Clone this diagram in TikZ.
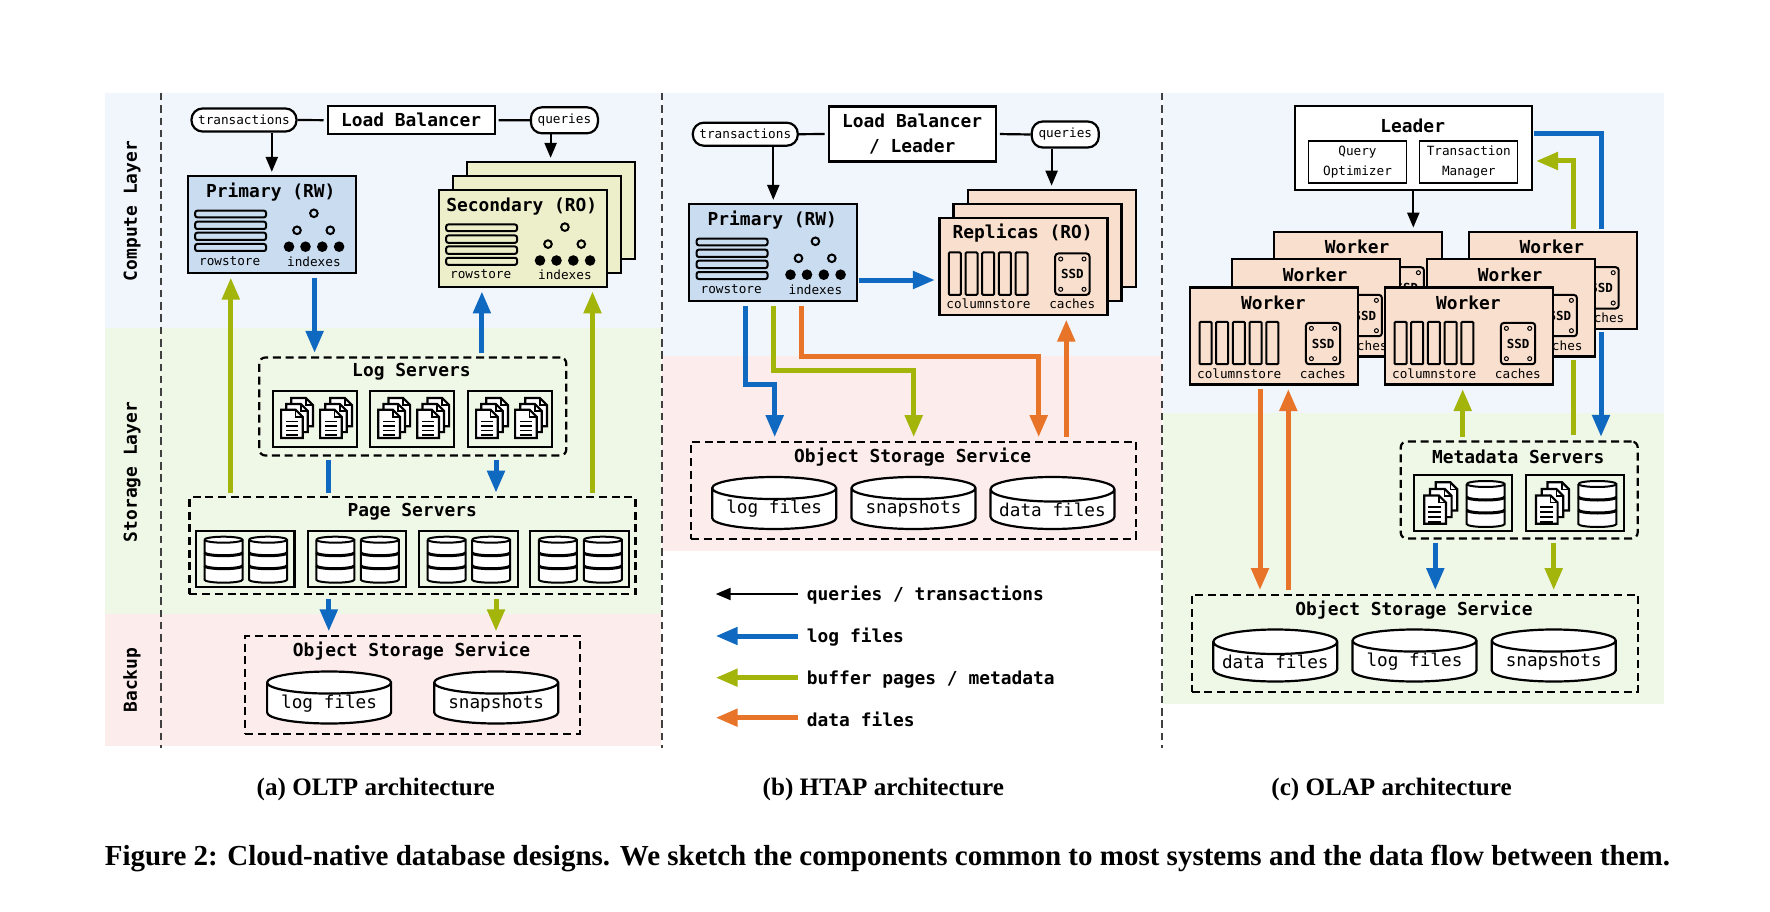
\documentclass[tikz,border=0pt]{standalone}
\usepackage{fontspec}
\setmainfont{Liberation Serif}
\setmonofont{DejaVu Sans Mono}
\usetikzlibrary{arrows.meta,shapes.geometric}

\definecolor{computebg}{HTML}{F0F6FB}
\definecolor{storagebg}{HTML}{EFF7E6}
\definecolor{backupbg}{HTML}{FDECEC}
\definecolor{primfill}{HTML}{C9DCF0}
\definecolor{secfill}{HTML}{EDEFCB}
\definecolor{colfill}{HTML}{F8DFCE}
\definecolor{logblue}{HTML}{0F69C0}
\definecolor{pageolive}{HTML}{A3B40A}
\definecolor{dataorange}{HTML}{E8742A}

\newcommand\headfont{\ttfamily\bfseries\fontsize{17.9}{24}\selectfont}
\newcommand\tinyfont{\ttfamily\fontsize{12.7}{18}\selectfont}
\newcommand\diskfont{\ttfamily\fontsize{17.7}{22}\selectfont}

\tikzset{
	box/.style={draw,line width=2.2pt,inner sep=0pt,minimum width=#1},
	head/.style={font=\headfont,yshift=-1.5pt},
	pill/.style={draw,line width=2.2pt,fill=white,rounded corners=11pt,inner sep=0pt,font=\tinyfont},
	dashbox/.style={draw,line width=2.2pt,dash pattern=on 8pt off 4.7pt,inner sep=0pt},
	sepline/.style={line width=2pt,dash pattern=on 7.5pt off 4.8pt,black!75},
	ask/.style={line width=2.2pt,-{Triangle[width=12pt,length=15pt]},shorten >=3pt},
	wire/.style={line width=2.2pt,shorten >=3pt},
	flow/.style={line width=5pt,color=#1,-{Triangle[width=17pt,length=22pt]},shorten >=3.5pt,shorten <=3.5pt},
	flat/.style={line width=5pt,color=#1,shorten <=3.5pt,shorten >=3.5pt},
	disk/.style={draw,line width=2.2pt,fill=white,cylinder,shape border rotate=90,aspect=0.23,
		minimum width=124pt,minimum height=52pt,inner sep=0pt,font=\diskfont,anchor=shape center},
	% one sheet with a folded corner
	pics/sheet/.style={code={
		\draw[line width=2.2pt,fill=white] (-10.8,-14.1) -- (3.8,-14.1) -- (10.8,-7.1) -- (10.8,14.1) -- (-10.8,14.1) -- cycle;
		\draw[line width=1.5pt] (3.8,-14.1) -- (3.8,-7.1) -- (10.8,-7.1);
	}},
	% three offset sheets
	pics/docs/.style={code={
		\pic at (5.1,-5.9) {sheet};
		\pic at (0,0) {sheet};
		\pic at (-5.1,5.9) {sheet};
		\draw[line width=1.4pt] (-11,3.5) -- (0.5,3.5) (-11,8) -- (0.5,8) (-11,12.5) -- (0.5,12.5) (-11,17) -- (0.5,17);
	}},
	% three tier drum
	pics/drum/.style={code={
		\draw[line width=2pt,fill=white] (-19,-20) -- (-19,20) arc[start angle=180,end angle=360,x radius=19pt,y radius=3pt]
			-- (19,-20) arc[start angle=0,end angle=180,x radius=19pt,y radius=3pt];
		\draw[line width=2pt] (-19,-20) arc[start angle=180,end angle=360,x radius=19pt,y radius=3pt];
		\draw[line width=3pt] (-19,-7) arc[start angle=180,end angle=360,x radius=19pt,y radius=3pt];
		\draw[line width=3pt] (-19,6) arc[start angle=180,end angle=360,x radius=19pt,y radius=3pt];
	}},
	% row box, title and fill as arguments
	pics/rowbox/.style 2 args={code={
		\node[box=168pt,minimum height=97pt,fill=#2] (-box) at (0,0) {};
		\node[head] (-head) at (-1,-33.5) {#1};
		\draw[line width=2pt,rounded corners=2pt] (-76.6,-13.8) rectangle (-5.8,-7.2);
		\draw[line width=2pt,rounded corners=2pt] (-76.6,-2.8) rectangle (-5.8,4.5);
		\draw[line width=2pt,rounded corners=2pt] (-76.6,8.2) rectangle (-5.8,15.5);
		\draw[line width=2pt,rounded corners=2pt] (-76.6,19.5) rectangle (-5.8,26.5);
		\draw[line width=2pt] (42.1,-11.2) circle (3.8pt) (25.2,5.8) circle (3.8pt) (58.5,5.8) circle (3.8pt);
		\fill (17.2,22.2) circle (5.3pt) (33.7,22.2) circle (5.3pt) (50.5,22.2) circle (5.3pt) (67.3,22.2) circle (5.3pt);
		\node[font=\tinyfont] (-rows) at (-42.1,36.2) {rowstore};
		\node[font=\tinyfont] (-idx) at (42.1,36.8) {indexes};
	}},
	% column box, title as argument
	pics/colbox/.style={code={
		\node[box=168pt,minimum height=97pt,fill=colfill] (-box) at (0,0) {};
		\node[head] (-head) at (-0.8,-34.5) {#1};
		\draw[line width=2pt,rounded corners=1pt] (-74.7,-14) rectangle ++(12,42.3);
		\draw[line width=2pt,rounded corners=1pt] (-58,-14) rectangle ++(12,42.3);
		\draw[line width=2pt,rounded corners=1pt] (-41.3,-14) rectangle ++(12,42.3);
		\draw[line width=2pt,rounded corners=1pt] (-24.6,-14) rectangle ++(12,42.3);
		\draw[line width=2pt,rounded corners=1pt] (-7.9,-14) rectangle ++(12,42.3);
		\draw[line width=2pt,rounded corners=3pt] (31.7,-13) rectangle (66,28.3);
		\draw[line width=1pt] (37.2,-7.5) circle (2pt) (60.5,-7.5) circle (2pt) (37.2,22.8) circle (2pt) (60.5,22.8) circle (2pt);
		\node[font=\ttfamily\bfseries\fontsize{12.5}{15}\selectfont] (-ssd) at (48.9,7.6) {SSD};
		\node[font=\tinyfont] (-cols) at (-35,37.7) {columnstore};
		\node[font=\tinyfont] (-cache) at (48.7,37.7) {caches};
	}},
}

\begin{document}
\begin{tikzpicture}[x=1pt,y=-1pt]
	\useasboundingbox (0,0) rectangle (1770,912);

	%backgrounds
	\fill[computebg] (105,93) rectangle (661,328);
	\fill[storagebg] (105,328) rectangle (661,614);
	\fill[backupbg] (105,614) rectangle (661,746);
	\fill[computebg] (662,93) rectangle (1162,356);
	\fill[backupbg] (662,356) rectangle (1162,551);
	\fill[computebg] (1163,93) rectangle (1664,412.7);
	\fill[storagebg] (1163,412.7) rectangle (1664,704);

	\draw[sepline] (160.8,93) -- (160.8,748);
	\draw[sepline] (661.7,93) -- (661.7,748);
	\draw[sepline] (1162.3,93) -- (1162.3,748);

	\node[font=\headfont,rotate=90] (computelab) at (132,211) {Compute Layer};
	\node[font=\headfont,rotate=90] (storagelab) at (132,472) {Storage Layer};
	\node[font=\headfont,rotate=90] (backuplab) at (132,680) {Backup};

	%oltp panel
	\node[box=167pt,minimum height=28pt,fill=white,font=\headfont] (lba) at (411.1,120.2) {\raisebox{-1.5pt}{Load Balancer}};
	\node[pill,minimum width=105pt,minimum height=23pt] (txna) at (244,120) {transactions};
	\node[pill,minimum width=67pt,minimum height=26pt] (qrya) at (564.4,120.3) {queries};
	\draw[wire] (txna.east) -- (lba.west);
	\draw[wire] (qrya.west) -- (lba.east);

	\pic (pa) at (271.8,224.5) {rowbox={Primary (RW)}{primfill}};
	\node[box=168pt,minimum height=97pt,fill=secfill] (seca3) at (550.6,210.5) {};
	\node[box=168pt,minimum height=97pt,fill=secfill] (seca2) at (536.8,224.7) {};
	\pic (seca) at (522.8,238.3) {rowbox={Secondary (RO)}{secfill}};
	\draw[ask] (txna.south -| pa-box.north) -- (pa-box.north);
	\draw[ask] (qrya.south -| seca3.north) -- (seca3.north);

	\node[dashbox,rounded corners=6pt,minimum width=307pt,minimum height=98pt] (logsrv) at (412.8,406.5) {};
	\node[head] (logtitle) at (411.5,370) {Log Servers};
	\node[box=84pt,minimum height=56pt] (loga) at (315,419.2) {};
	\node[box=84pt,minimum height=56pt] (logb) at (412.2,419.2) {};
	\node[box=84pt,minimum height=56pt] (logc) at (510,419.2) {};
	\pic at (297,418) {docs};
	\pic at (336,418) {docs};
	\pic at (394.2,418) {docs};
	\pic at (433.2,418) {docs};
	\pic at (492,418) {docs};
	\pic at (531,418) {docs};

	\node[dashbox,minimum width=446pt,minimum height=97pt] (pagesrv) at (412.4,545.8) {};
	\node[head] (pagetitle) at (412.2,510) {Page Servers};
	\node[box=98.5pt,minimum height=56pt] (pga) at (245.3,558.7) {};
	\node[box=98.5pt,minimum height=56pt] (pgb) at (357.1,558.7) {};
	\node[box=98.5pt,minimum height=56pt] (pgc) at (468.4,558.7) {};
	\node[box=98.5pt,minimum height=56pt] (pgd) at (579.6,558.7) {};
	\pic at (223.5,559.7) {drum};
	\pic at (268,559.7) {drum};
	\pic at (335.3,559.7) {drum};
	\pic at (379.8,559.7) {drum};
	\pic at (446.6,559.7) {drum};
	\pic at (491.1,559.7) {drum};
	\pic at (557.8,559.7) {drum};
	\pic at (602.8,559.7) {drum};

	\node[dashbox,minimum width=334.5pt,minimum height=98pt] (obja) at (412.6,685) {};
	\node[head] (objatitle) at (411.5,649.3) {Object Storage Service};
	\node[disk] (loga-d) at (329.1,697.5) {log files};
	\node[disk] (snapa-d) at (496.2,697.5) {snapshots};

	\coordinate (xola) at (230.8,300);
	\coordinate (xolb) at (592.5,300);
	\coordinate (xbla) at (314.6,300);
	\coordinate (xblb) at (481.9,300);
	\coordinate (xblc) at (328.8,300);
	\coordinate (xbld) at (496,300);
	\draw[flow=pageolive] (pagesrv.north -| xola) -- (pa-box.south -| xola);
	\draw[flow=pageolive] (pagesrv.north -| xolb) -- (seca-box.south -| xolb);
	\draw[flow=logblue] (pa-box.south -| xbla) -- (logsrv.north -| xbla);
	\draw[flow=logblue] (logsrv.north -| xblb) -- (seca-box.south -| xblb);
	\draw[flat=logblue] (logsrv.south -| xblc) -- (pagesrv.north -| xblc);
	\draw[flow=logblue] (logsrv.south -| xbld) -- (pagesrv.north -| xbld);
	\draw[flow=logblue] (pagesrv.south -| xblc) -- (obja.north -| xblc);
	\draw[flow=pageolive] (pagesrv.south -| xbld) -- (obja.north -| xbld);

	\node[font=\bfseries\fontsize{25.1}{28}\selectfont] (capa) at (375.7,789.2) {(a) OLTP architecture};

	%htap panel
	\node[box=167pt,minimum height=55pt,fill=white,font=\headfont,align=center] (lbb) at (912.2,134) {\raisebox{-1pt}{Load Balancer}\\\raisebox{-2.5pt}{/ Leader}};
	\node[pill,minimum width=105pt,minimum height=23pt] (txnb) at (745.3,134.2) {transactions};
	\node[pill,minimum width=67pt,minimum height=26pt] (qryb) at (1065.3,134.5) {queries};
	\draw[wire] (txnb.east) -- (lbb.west);
	\draw[wire] (qryb.west) -- (lbb.east);

	\pic (pb) at (773.3,252.5) {rowbox={Primary (RW)}{primfill}};
	\node[box=168pt,minimum height=97pt,fill=colfill] (repb3) at (1051.6,238.3) {};
	\node[box=168pt,minimum height=97pt,fill=colfill] (repb2) at (1037.5,252.5) {};
	\pic (repb) at (1023.5,266.5) {colbox=Replicas (RO)};
	\draw[ask] (txnb.south -| pb-box.north) -- (pb-box.north);
	\draw[ask] (qryb.south -| repb3.north) -- (repb3.north);

	\node[dashbox,minimum width=445pt,minimum height=97pt] (objb) at (913.3,490.3) {};
	\node[head] (objbtitle) at (912.7,455.7) {Object Storage Service};
	\node[disk] (logb-d) at (774.2,503) {log files};
	\node[disk] (snapb-d) at (913.5,503) {snapshots};
	\node[disk] (datab-d) at (1052.5,503) {data files};

	\coordinate (bbl1) at (745.3,384);
	\coordinate (bbl2) at (774.7,384);
	\coordinate (bol1) at (773.3,370.7);
	\coordinate (bol2) at (913.7,370.7);
	\coordinate (bor1) at (801,356.3);
	\coordinate (bor2) at (1038.7,356.3);
	\coordinate (bor3) at (1066.3,400);
	\coordinate (bbl3) at (900,280);
	\draw[flow=logblue,shorten <=1pt] (pb-box.east |- bbl3) -- (repb-box.west |- bbl3);
	\draw[flow=logblue] (pb-box.south -| bbl1) -- (bbl1) -- (bbl2) -- (objb.north -| bbl2);
	\draw[flow=pageolive] (pb-box.south -| bol1) -- (bol1) -- (bol2) -- (objb.north -| bol2);
	\draw[flow=dataorange] (pb-box.south -| bor1) -- (bor1) -- (bor2) -- (objb.north -| bor2);
	\draw[flow=dataorange] (objb.north -| bor3) -- (repb-box.south -| bor3);

	%legend
	\coordinate (lgr1) at (797.7,594);
	\coordinate (lgl1) at (715.7,594);
	\coordinate (lgr2) at (797.7,636);
	\coordinate (lgl2) at (715.7,636);
	\coordinate (lgr3) at (797.7,677.7);
	\coordinate (lgl3) at (715.7,677.7);
	\coordinate (lgr4) at (797.7,717.7);
	\coordinate (lgl4) at (715.7,717.7);
	\draw[line width=2.2pt,-{Triangle[width=12pt,length=15pt]}] (lgr1) -- (lgl1);
	\draw[flow=logblue,shorten >=0pt,shorten <=0pt] (lgr2) -- (lgl2);
	\draw[flow=pageolive,shorten >=0pt,shorten <=0pt] (lgr3) -- (lgl3);
	\draw[flow=dataorange,shorten >=0pt,shorten <=0pt] (lgr4) -- (lgl4);
	\node[head,anchor=west,inner sep=0pt] (lgt1) at (806.7,594) {queries / transactions};
	\node[head,anchor=west,inner sep=0pt] (lgt2) at (806.7,636) {log files};
	\node[head,anchor=west,inner sep=0pt] (lgt3) at (806.7,677.7) {buffer pages / metadata};
	\node[head,anchor=west,inner sep=0pt] (lgt4) at (806.7,717.7) {data files};

	\node[font=\bfseries\fontsize{25.1}{28}\selectfont] (capb) at (883.3,789.2) {(b) HTAP architecture};

	%olap panel
	\node[box=237pt,minimum height=84pt,fill=white] (leader) at (1413.3,148) {};
	\node[head] (leadertitle) at (1412.7,124) {Leader};
	\node[draw,line width=1.3pt,minimum width=98pt,minimum height=42pt,inner sep=0pt,font=\ttfamily\fontsize{12.7}{19.5}\selectfont,align=center] (qopt) at (1357.5,162) {Query\\Optimizer};
	\node[draw,line width=1.3pt,minimum width=98pt,minimum height=42pt,inner sep=0pt,font=\ttfamily\fontsize{12.7}{19.5}\selectfont,align=center] (tman) at (1468.8,162) {Transaction\\Manager};

	\pic (wl3) at (1357.9,280.2) {colbox=Worker};
	\pic (wl2) at (1315.9,307.9) {colbox=Worker};
	\pic (wl1) at (1274.2,335.9) {colbox=Worker};
	\pic (wr3) at (1552.7,280.2) {colbox=Worker};
	\pic (wr2) at (1510.9,307.9) {colbox=Worker};
	\pic (wr1) at (1469.2,335.9) {colbox=Worker};
	\draw[ask] (leader.south) -- (leader.south |- wl3-box.north);

	\node[dashbox,rounded corners=6pt,minimum width=237pt,minimum height=97pt] (metasrv) at (1519.2,490) {};
	\node[head] (metatitle) at (1518.3,455.7) {Metadata Servers};
	\node[box=98.3pt,minimum height=56pt] (meta1) at (1463.2,502.9) {};
	\node[box=98.3pt,minimum height=56pt] (meta2) at (1574.9,502.9) {};
	\pic[scale=1.12] at (1440.8,503) {docs};
	\pic at (1485.7,504) {drum};
	\pic[scale=1.12] at (1552.5,503) {docs};
	\pic at (1597.4,504) {drum};

	\node[dashbox,minimum width=446pt,minimum height=97pt] (objc) at (1414.7,643.2) {};
	\node[head] (objctitle) at (1414,608.3) {Object Storage Service};
	\node[disk] (datac-d) at (1275.3,655.5) {data files};
	\node[disk] (logc-d) at (1414.5,655.5) {log files};
	\node[disk] (snapc-d) at (1553.7,655.5) {snapshots};

	\coordinate (cbl1) at (1534.3,134);
	\coordinate (cbl2) at (1601,229);
	\coordinate (cbl3) at (1601,332);
	\coordinate (col1) at (1573.3,229);
	\coordinate (col2) at (1536,161);
	\coordinate (col3) at (1573.3,360);
	\coordinate (col4) at (1462.7,400);
	\coordinate (cor1) at (1260,500);
	\coordinate (cor2) at (1288.3,500);
	\coordinate (cbl4) at (1435.3,560);
	\coordinate (col5) at (1553.7,560);
	\draw[line width=5pt,color=logblue] (cbl1) -| (cbl2);
	\draw[flow=logblue,shorten <=0pt] (cbl3) -- (metasrv.north -| cbl3);
	\draw[line width=5pt,color=pageolive,-{Triangle[width=17pt,length=22pt]}] (col1) |- (col2);
	\draw[line width=5pt,color=pageolive,shorten >=0pt] (metasrv.north -| col3) ++(0,-5) -- (col3);
	\draw[flow=pageolive] (metasrv.north -| col4) -- (wr1-box.south -| col4);
	\draw[flow=dataorange] (wl1-box.south -| cor1) -- (objc.north -| cor1);
	\draw[flow=dataorange] (objc.north -| cor2) -- (wl1-box.south -| cor2);
	\draw[flow=logblue] (metasrv.south -| cbl4) -- (objc.north -| cbl4);
	\draw[flow=pageolive] (metasrv.south -| col5) -- (objc.north -| col5);

	\node[font=\bfseries\fontsize{25.1}{28}\selectfont] (capc) at (1391.5,789.2) {(c) OLAP architecture};

	%caption
	\node[font=\bfseries\fontsize{29}{32}\selectfont] (figcap) at (887.5,858.5) {Figure 2: Cloud-native database designs. We sketch the components common to most systems and the data flow between them.};
\end{tikzpicture}
\end{document}
